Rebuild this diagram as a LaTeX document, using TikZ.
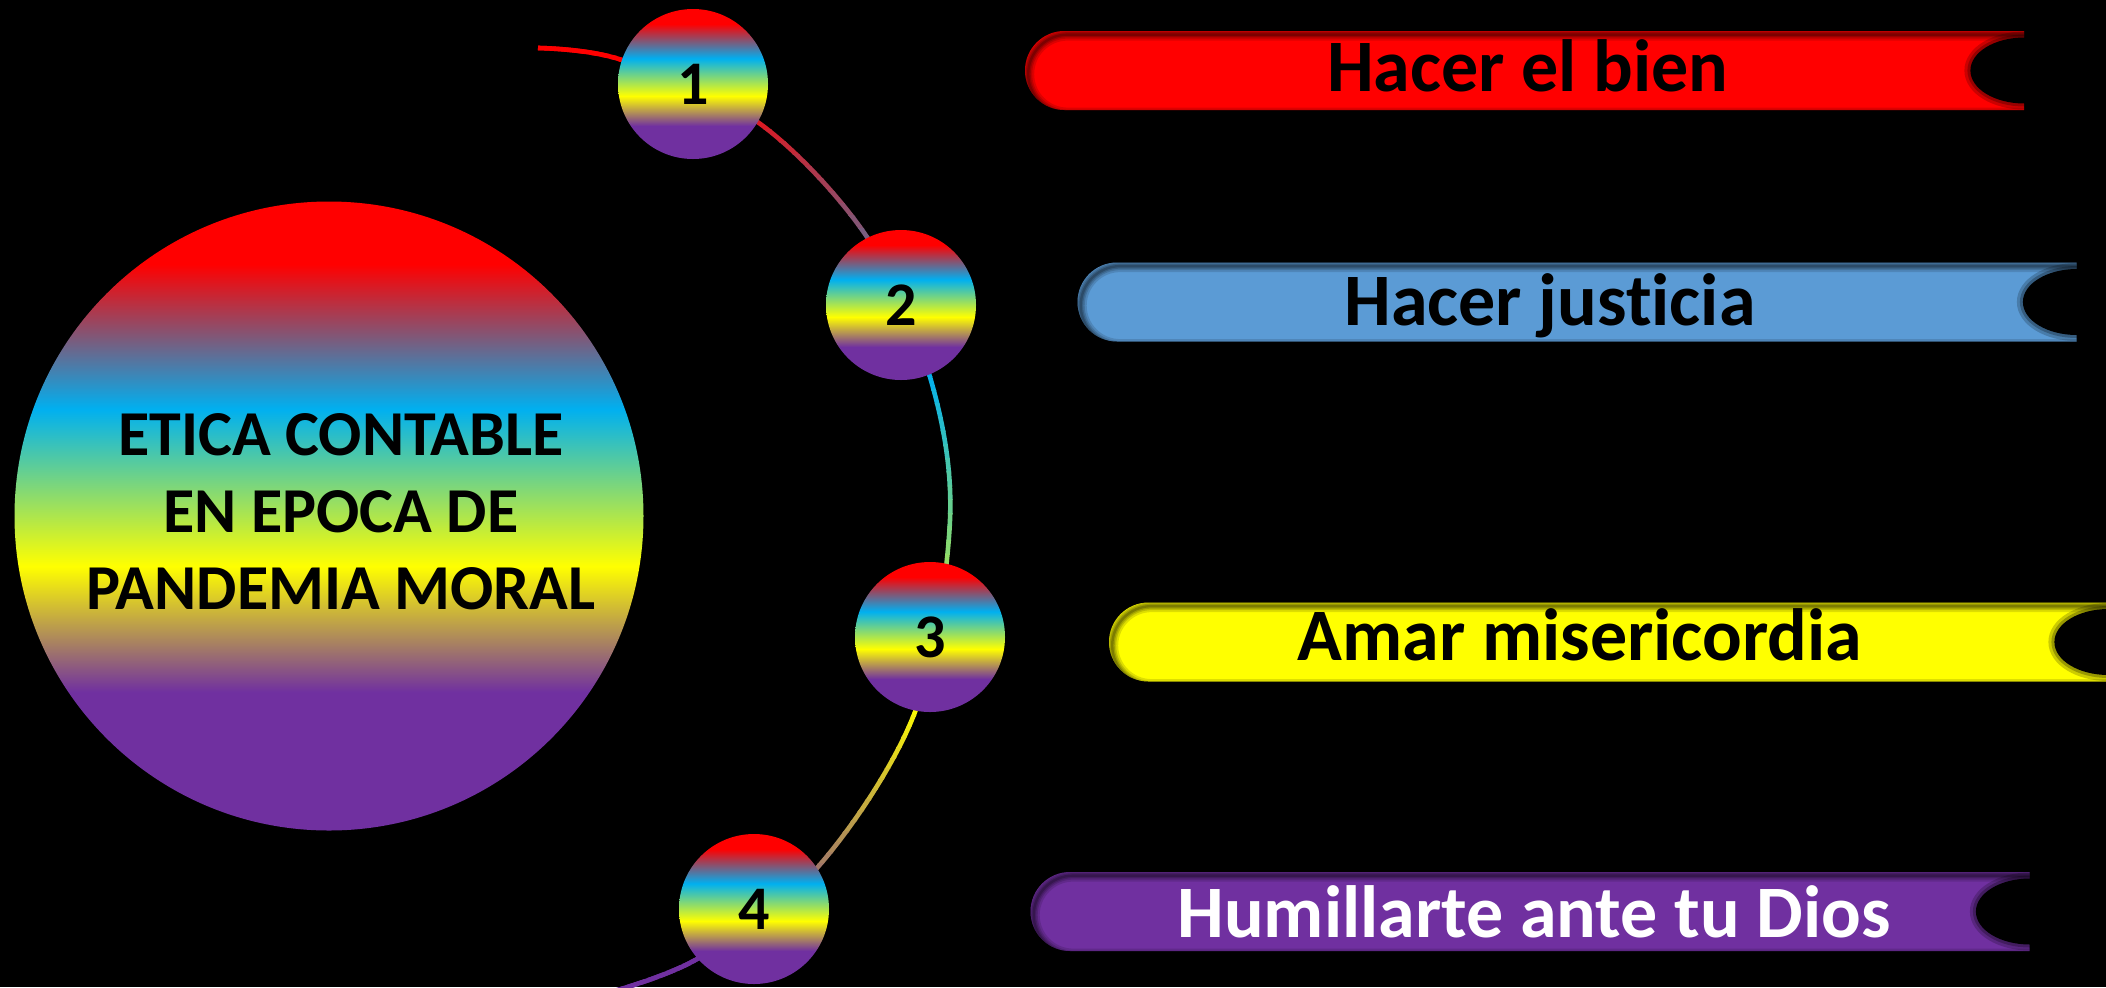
\documentclass[tikz,border=0pt]{standalone}
\usepackage{fontspec}
\setmainfont{Carlito}[Ligatures=CommonOff]
\usetikzlibrary{shapes.misc,shapes.geometric}
\definecolor{pred}{HTML}{FF0000}
\definecolor{pblue}{HTML}{00B0F0}
\definecolor{pyellow}{HTML}{FFFF00}
\definecolor{ppurple}{HTML}{7030A0}
\definecolor{barblue}{HTML}{5B9BD5}
\pgfdeclareverticalshading{rainbowv}{100bp}{color(0bp)=(ppurple); color(36bp)=(ppurple); color(46bp)=(pyellow); color(58.5bp)=(pblue); color(70bp)=(pred); color(100bp)=(pred)}
\begin{document}
\begin{tikzpicture}[x=0.5pt,y=-0.5pt,
  numcirc/.style={circle, minimum size=75pt, inner sep=0pt, shading=rainbowv, text=black, font=\fontsize{31}{36}\selectfont\bfseries},
  bigcirc/.style={circle, minimum size=314.5pt, inner sep=0pt, shading=rainbowv},
  maintext/.style={align=center, text=black, font=\fontsize{32}{38.5}\selectfont\bfseries},
  bar/.style={rounded rectangle, rounded rectangle right arc=none, minimum width=499.5pt, minimum height=39.5pt, inner sep=0pt, fill=#1,
    path picture={
      \foreach \w/\o in {6/0.13, 4/0.15, 2.5/0.17, 1.2/0.2}{
        \draw[black, opacity=\o, line width=\w pt, rounded corners=19.75pt]
          ([xshift=1.6pt,yshift=-1.8pt]path picture bounding box.north west) rectangle
          ([xshift=40pt,yshift=-1.8pt]path picture bounding box.south east);
      }}},
  notch/.style={ellipse, fill=black, minimum width=54pt, minimum height=33pt, inner sep=0pt,
    preaction={draw=black, draw opacity=0.2, line width=6pt},
    preaction={draw=black, draw opacity=0.25, line width=3pt}},
  bartext/.style={anchor=base, font=\fontsize{37}{44}\selectfont\bfseries},
  arcline/.style={line width=2.3pt}
]
\useasboundingbox (0,0) rectangle (2106,987);
\fill[black] (0,0) rectangle (2106,987);
\clip (0,0) rectangle (2106,987);

% positions of the numbered circles on the arc
\coordinate (p1) at (693,84);
\coordinate (p2) at (901,305);
\coordinate (p3) at (930,637);
\coordinate (p4) at (754,909);

\def\arcpath{plot[smooth,tension=0.55] coordinates {(538,48) (622,60) (759,123) (867,237) (930,377) (950,520) (915,712) (817,868) (697,959) (600,995)}}

% arc with vertical rainbow gradient, drawn band by band
\foreach \ya/\yb/\ca/\cb in {30/80/pred/pred, 80/376/pred/pblue, 376/705/pblue/pyellow, 705/958/pyellow/ppurple, 958/1000/ppurple/ppurple}{
  \foreach \k in {0,...,23}{
    \pgfmathsetmacro\yy{\ya+(\yb-\ya)*\k/24}
    \pgfmathsetmacro\yz{\ya+(\yb-\ya)*(\k+1)/24+0.6}
    \pgfmathtruncatemacro\mx{100-100*(\k+0.5)/24}
    \colorlet{bandcol}{\ca!\mx!\cb}
    \begin{scope}
      \clip (400,\yy) rectangle (1000,\yz);
      \draw[arcline, bandcol] \arcpath;
    \end{scope}
  }
}

% numbered circles
\node[numcirc] (n1) at (p1) {1};
\node[numcirc] (n2) at (p2) {2};
\node[numcirc] (n3) at (p3) {3};
\node[numcirc] (n4) at (p4) {4};

% main circle
\node[bigcirc] (main) at (329,516) {};
\node[maintext] (maintxt) at (341,512) {ETICA CONTABLE\\EN EPOCA DE\\PANDEMIA MORAL};

% bars
\node[bar=pred] (b1) at (1524.5,70.5) {};
\node[notch] (k1) at (b1.east) {};
\node[bartext, text=black] (t1) at (1528,91) {Hacer el bien};

\node[bar=barblue] (b2) at (1577,302) {};
\node[notch] (k2) at (b2.east) {};
\node[bartext, text=black] (t2) at (1550,325) {Hacer justicia};

\node[bar=pyellow] (b3) at (1608.5,642) {};
\node[notch] (k3) at (b3.east) {};
\node[bartext, text=black] (t3) at (1580,660) {Amar misericordia};

\node[bar=ppurple] (b4) at (1530,911.5) {};
\node[notch] (k4) at (b4.east) {};
\node[bartext, text=white] (t4) at (1534,937) {Humillarte ante tu Dios};
\end{tikzpicture}
\end{document}
